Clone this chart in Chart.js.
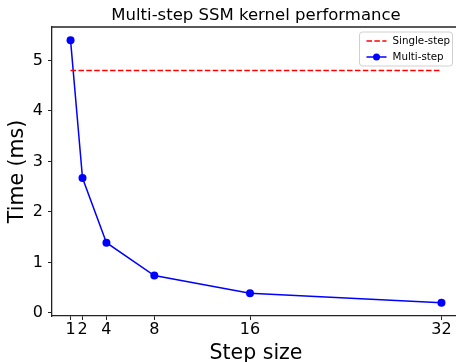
<!DOCTYPE html>
<html>
<head>
<meta charset="utf-8">
<script src="https://cdn.jsdelivr.net/npm/chart.js@4"></script>
<style>
  html, body { margin: 0; padding: 0; overflow: hidden; background: #fff; }
  #chart { display: block; }
</style>
</head>
<body>
<!-- a bit wider than the window: the right spine is cut off like in the original -->
<canvas id="chart" width="464" height="362"></canvas>
<script>
  const stepSizes = [1, 2, 4, 8, 16, 32];
  const multiStepMs = [5.40, 2.67, 1.39, 0.74, 0.39, 0.20];
  const singleStepMs = 4.8;
  const xTicks = [1, 2, 4, 8, 16, 32];
  const yTicks = [0, 1, 2, 3, 4, 5];

  Chart.defaults.font.family = "'DejaVu Sans', sans-serif";
  Chart.defaults.color = "#000";

  // top spine + matplotlib style legend box
  const extras = {
    id: "extras",
    afterDraw(chart) {
      const ctx = chart.ctx;
      const a = chart.chartArea;
      ctx.save();
      ctx.strokeStyle = "#222";
      ctx.lineWidth = 1.3;
      ctx.beginPath();
      ctx.moveTo(a.left, a.top);
      ctx.lineTo(a.right, a.top);
      ctx.stroke();

      const bx = a.right - 100.5, by = a.top + 5, bw = 93, bh = 34;
      ctx.fillStyle = "rgba(255,255,255,0.8)";
      ctx.strokeStyle = "#d0d0d0";
      ctx.lineWidth = 1;
      ctx.beginPath();
      ctx.roundRect(bx, by, bw, bh, 3);
      ctx.fill();
      ctx.stroke();

      ctx.font = "10.3px 'DejaVu Sans'";
      ctx.textBaseline = "middle";
      ctx.fillStyle = "#000";
      chart.data.datasets.forEach((ds, i) => {
        const cy = by + 9 + i * 16;
        const x0 = bx + 7, x1 = bx + 27;
        ctx.strokeStyle = ds.borderColor;
        ctx.lineWidth = 1.5;
        ctx.setLineDash(ds.borderDash || []);
        ctx.beginPath();
        ctx.moveTo(x0, cy);
        ctx.lineTo(x1, cy);
        ctx.stroke();
        ctx.setLineDash([]);
        if (ds.pointRadius > 0) {
          ctx.fillStyle = ds.backgroundColor;
          ctx.beginPath();
          ctx.arc((x0 + x1) / 2, cy, 3.5, 0, Math.PI * 2);
          ctx.fill();
        }
        ctx.fillStyle = "#000";
        ctx.fillText(ds.label, bx + 33, cy);
      });
      ctx.restore();
    }
  };

  new Chart(document.getElementById("chart"), {
    type: "line",
    data: {
      datasets: [
        {
          label: "Single-step",
          data: [
            { x: stepSizes[0], y: singleStepMs },
            { x: stepSizes[stepSizes.length - 1], y: singleStepMs }
          ],
          borderColor: "#ff0000",
          backgroundColor: "#ff0000",
          borderWidth: 1.5,
          borderDash: [5.5, 2.4],
          pointRadius: 0
        },
        {
          label: "Multi-step",
          data: stepSizes.map((s, i) => ({ x: s, y: multiStepMs[i] })),
          borderColor: "#0000ff",
          backgroundColor: "#0000ff",
          borderWidth: 1.5,
          pointRadius: 4,
          pointBorderWidth: 0
        }
      ]
    },
    options: {
      responsive: false,
      animation: false,
      layout: { padding: 0 },
      plugins: {
        legend: { display: false },
        tooltip: { enabled: false },
        title: {
          display: true,
          text: "Multi-step SSM kernel performance",
          fullSize: false,
          color: "#000",
          font: { size: 16.5, weight: "normal", lineHeight: 1.2 },
          padding: { top: 5.4, bottom: 1.8 }
        }
      },
      scales: {
        x: {
          type: "linear",
          min: -0.55,
          max: 33.55,
          afterFit(scale) {
            scale.height = 46;
            scale.paddingLeft = 0;
            scale.paddingRight = 0;
          },
          afterBuildTicks(scale) { scale.ticks = xTicks.map((v) => ({ value: v })); },
          grid: { drawOnChartArea: false, drawTicks: true, tickLength: 4, color: "#222", tickWidth: 1 },
          border: { color: "#222", width: 1.3 },
          ticks: { autoSkip: false, maxRotation: 0, padding: 0, font: { size: 16 }, color: "#000" },
          title: {
            display: true,
            text: "Step size",
            color: "#000",
            font: { size: 20.5, lineHeight: 1 },
            padding: { top: 0, bottom: -2 }
          }
        },
        y: {
          min: -0.06,
          max: 5.66,
          afterFit(scale) {
            scale.width = 52;
            scale.paddingTop = 0;
            scale.paddingBottom = 0;
          },
          afterBuildTicks(scale) { scale.ticks = yTicks.map((v) => ({ value: v })); },
          grid: { drawOnChartArea: false, drawTicks: true, tickLength: 4, color: "#222", tickWidth: 1 },
          border: { color: "#222", width: 1.3 },
          ticks: { padding: 5, font: { size: 16 }, color: "#000" },
          title: {
            display: true,
            text: "Time (ms)",
            color: "#000",
            font: { size: 20.5, lineHeight: 1 },
            padding: { top: 7.5, bottom: 0 }
          }
        }
      }
    },
    plugins: [extras]
  });
</script>
</body>
</html>
